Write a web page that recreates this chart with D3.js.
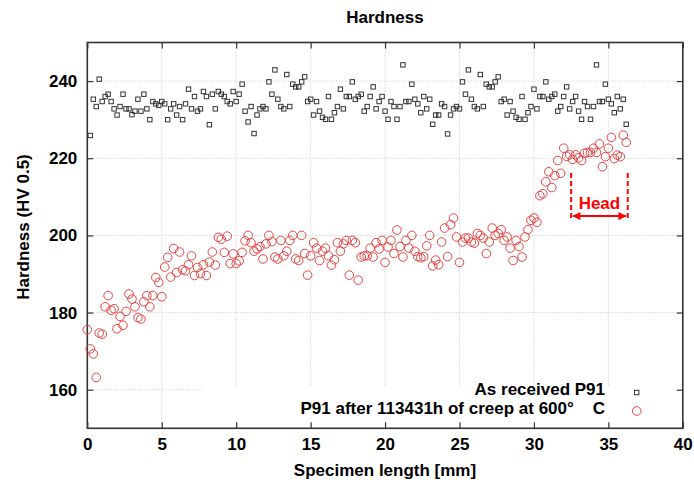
<!DOCTYPE html>
<html><head><meta charset="utf-8">
<script src="https://cdn.jsdelivr.net/npm/d3@7"></script>
<style>
body{margin:0;background:#fff}
svg{display:block}
text{font-family:"Liberation Sans",Arial,Helvetica,sans-serif;font-weight:bold;fill:#000}
</style>
</head><body>
<svg id="chart" width="694" height="484"></svg>
<script>
const title = "Hardness";
const xLabel = "Specimen length [mm]";
const yLabel = "Hardness (HV 0.5)";
const seriesNames = ["As received P91", "P91 after 113431h of creep at 600°    C"];
const xTicks = [0, 5, 10, 15, 20, 25, 30, 35, 40];
const yTicks = [160, 180, 200, 220, 240];

// measurement positions along the specimen [mm]
const positions = [
  0.0, 0.2, 0.4, 0.6, 0.8, 1.0, 1.2, 1.4, 1.6, 1.8,
  2.0, 2.2, 2.4, 2.6, 2.8, 3.0, 3.2, 3.4, 3.6, 3.8,
  4.0, 4.2, 4.4, 4.6, 4.8, 5.0, 5.2, 5.4, 5.6, 5.8,
  6.0, 6.2, 6.4, 6.6, 6.8, 7.0, 7.2, 7.4, 7.6, 7.8,
  8.0, 8.2, 8.4, 8.6, 8.8, 9.0, 9.2, 9.4, 9.6, 9.8,
  10.0, 10.2, 10.4, 10.6, 10.8, 11.0, 11.2, 11.4, 11.6, 11.8,
  12.0, 12.2, 12.4, 12.6, 12.8, 13.0, 13.2, 13.4, 13.6, 13.8,
  14.0, 14.2, 14.4, 14.6, 14.8, 15.0, 15.2, 15.4, 15.6, 15.8,
  16.0, 16.2, 16.4, 16.6, 16.8, 17.0, 17.2, 17.4, 17.6, 17.8,
  18.0, 18.2, 18.4, 18.6, 18.8, 19.0, 19.2, 19.4, 19.6, 19.8,
  20.0, 20.2, 20.4, 20.6, 20.8, 21.0, 21.2, 21.4, 21.6, 21.8,
  22.0, 22.2, 22.4, 22.6, 22.8, 23.0, 23.2, 23.4, 23.6, 23.8,
  24.0, 24.2, 24.4, 24.6, 24.8, 25.0, 25.2, 25.4, 25.6, 25.8,
  26.0, 26.2, 26.4, 26.6, 26.8, 27.0, 27.2, 27.4, 27.6, 27.8,
  28.0, 28.2, 28.4, 28.6, 28.8, 29.0, 29.2, 29.4, 29.6, 29.8,
  30.0, 30.2, 30.4, 30.6, 30.8, 31.0, 31.2, 31.4, 31.6, 31.8,
  32.0, 32.2, 32.4, 32.6, 32.8, 33.0, 33.2, 33.4, 33.6, 33.8,
  34.0, 34.2, 34.4, 34.6, 34.8, 35.0, 35.2, 35.4, 35.6, 35.8,
  36.0, 36.2
];

// As received P91 (starts at 0.2 mm)
const asReceivedX = positions.slice(1);
const asReceived = [
  225.9, 235.3, 233.4, 240.5, 234.7, 236.0, 236.6, 234.7, 232.8, 231.2,
  233.4, 236.6, 232.8, 232.8, 231.3, 232.2, 235.3, 232.2, 236.6, 232.8,
  230.0, 234.7, 234.1, 233.7, 234.7, 234.1, 230.0, 232.8, 234.1, 231.2,
  233.4, 230.0, 234.1, 237.9, 232.8, 236.0, 232.2, 232.8, 237.3, 236.0,
  228.7, 236.6, 232.8, 237.3, 236.6, 236.0, 234.7, 234.1, 237.3, 234.7,
  236.6, 239.2, 232.2, 229.4, 233.4, 226.4, 231.2, 232.8, 233.4, 232.8,
  239.8, 236.6, 242.9, 235.3, 233.4, 232.8, 241.7, 233.4, 239.2, 238.5,
  238.5, 239.8, 241.1, 234.7, 235.3, 231.2, 234.7, 232.2, 230.6, 230.1,
  236.0, 230.1, 231.8, 233.4, 237.9, 232.8, 236.0, 236.0, 239.8, 235.3,
  236.0, 236.6, 232.2, 233.4, 236.0, 238.5, 232.8, 234.7, 236.0, 232.2,
  230.1, 234.7, 233.4, 230.1, 233.4, 244.2, 234.7, 234.7, 239.2, 235.3,
  234.1, 231.8, 236.0, 232.8, 235.3, 228.8, 231.2, 231.2, 234.1, 233.4,
  226.3, 231.2, 232.8, 233.4, 232.8, 239.8, 236.6, 242.9, 235.3, 233.4,
  232.8, 241.7, 233.4, 239.2, 238.5, 238.5, 239.8, 241.1, 234.7, 235.3,
  231.2, 234.7, 232.2, 230.6, 230.1, 236.0, 230.1, 231.8, 233.4, 237.9,
  232.8, 236.0, 236.0, 239.8, 235.3, 236.0, 236.6, 232.2, 233.4, 236.0,
  238.5, 232.8, 234.7, 236.0, 232.2, 230.1, 234.7, 233.4, 230.1, 233.4,
  244.2, 234.7, 234.7, 239.2, 235.3, 234.1, 231.8, 236.0, 232.8, 235.3,
  228.8
];

// P91 after 113431 h of creep at 600 °C (starts at 0.0 mm)
const creptX = positions;
const crept = [
  175.6, 170.6, 169.3, 163.2, 174.7, 174.4, 181.5, 184.4, 180.6, 181.0,
  175.8, 179.0, 176.7, 180.3, 184.8, 183.5, 181.5, 178.7, 178.3, 182.8,
  184.4, 181.5, 184.4, 189.1, 187.8, 184.1, 191.8, 194.3, 189.2, 196.6,
  190.4, 195.7, 191.1, 190.8, 192.4, 194.7, 189.6, 191.7, 190.1, 192.4,
  189.6, 193.1, 195.7, 192.3, 199.5, 199.0, 195.6, 199.8, 192.7, 195.2,
  192.7, 193.4, 195.6, 198.6, 200.0, 198.1, 195.9, 196.5, 197.1, 193.9,
  197.8, 200.0, 198.4, 194.4, 193.9, 198.7, 194.7, 195.9, 198.7, 200.0,
  193.9, 193.5, 200.0, 195.3, 189.7, 194.7, 198.1, 196.7, 193.5, 195.9,
  196.7, 194.7, 192.3, 193.7, 198.1, 195.9, 197.8, 198.7, 189.7, 198.7,
  198.1, 188.4, 194.4, 194.7, 194.7, 196.7, 194.4, 198.1, 196.5, 198.7,
  193.0, 197.0, 198.7, 195.3, 201.4, 197.1, 194.4, 198.7, 196.7, 200.0,
  195.9, 194.5, 194.2, 194.5, 197.3, 200.0, 192.1, 193.6, 192.4, 198.3,
  201.9, 194.5, 202.8, 204.5, 199.6, 193.0, 198.3, 199.3, 199.3, 198.3,
  198.0, 200.5, 200.0, 199.3, 195.3, 198.3, 201.9, 200.0, 200.5, 201.5,
  198.7, 199.6, 196.7, 193.5, 198.7, 197.1, 194.4, 199.6, 201.5, 203.9,
  204.5, 203.4, 210.3, 210.8, 213.9, 216.5, 212.4, 215.5, 219.4, 216.1,
  222.6, 220.5, 220.9, 219.7, 220.9, 220.1, 219.4, 221.3, 221.5, 221.5,
  222.6, 221.5, 223.7, 217.8, 220.4, 222.6, 225.4, 219.9, 220.8, 220.4,
  226.0, 224.1
];

// "Head" annotation (data units)
const headLabel = "Head";
const headX = [32.5, 36.3];
const headY = [204.5, 216.4];
const headArrowY = 205.0;

const svg = d3.select("#chart");
const x = d3.scaleLinear().domain([0, 40]).range([87.3, 682.8]);
const y = d3.scaleLinear().domain([150, 250]).range([428.3, 42.5]);
const red = "#e84444";

// grid
const grid = svg.append("g").attr("stroke", "#c4c4c4").attr("stroke-width", 1).attr("stroke-dasharray", "1,2");
grid.selectAll("line.v").data(xTicks.slice(1, -1)).join("line")
  .attr("x1", d => x(d)).attr("x2", d => x(d)).attr("y1", y.range()[1]).attr("y2", y.range()[0]);
grid.selectAll("line.h").data(yTicks).join("line")
  .attr("x1", x.range()[0]).attr("x2", x.range()[1]).attr("y1", d => y(d)).attr("y2", d => y(d));

// opaque key box
svg.append("rect").attr("x", 203).attr("y", 386).attr("width", x.range()[1] - 203).attr("height", y.range()[0] - 386).attr("fill", "#fff");

// axes
function styleAxis(g) {
  g.select(".domain").remove();
  g.selectAll(".tick line").attr("stroke", "#333").attr("stroke-width", 1.2);
  g.selectAll(".tick text").style("font-size", "17px").attr("fill", "#000");
}
svg.append("g").attr("transform", `translate(0,${y.range()[0]})`)
  .call(d3.axisBottom(x).tickValues(xTicks).tickSize(-6).tickPadding(10).tickFormat(d3.format("d")))
  .call(styleAxis);
svg.append("g").attr("transform", `translate(0,${y.range()[1]})`)
  .call(d3.axisTop(x).tickValues(xTicks).tickSize(-6).tickFormat(""))
  .call(styleAxis);
svg.append("g").attr("transform", `translate(${x.range()[0]},0)`)
  .call(d3.axisLeft(y).tickValues(yTicks).tickSize(-6).tickPadding(10).tickFormat(d3.format("d")))
  .call(styleAxis);
svg.append("g").attr("transform", `translate(${x.range()[1]},0)`)
  .call(d3.axisRight(y).tickValues(yTicks).tickSize(-6).tickFormat(""))
  .call(styleAxis);

// frame
svg.append("rect").attr("x", x.range()[0]).attr("y", y.range()[1])
  .attr("width", x.range()[1] - x.range()[0]).attr("height", y.range()[0] - y.range()[1])
  .attr("fill", "none").attr("stroke", "#333").attr("stroke-width", 1.6);

// series: as received (squares)
const sq = 4.4;
svg.append("g").selectAll("rect").data(asReceived).join("rect")
  .attr("x", (d, i) => x(asReceivedX[i]) - sq / 2).attr("y", d => y(d) - sq / 2)
  .attr("width", sq).attr("height", sq)
  .attr("fill", "none").attr("stroke", "#333").attr("stroke-width", 1);

// series: crept (circles)
svg.append("g").selectAll("circle").data(crept).join("circle")
  .attr("cx", (d, i) => x(creptX[i])).attr("cy", d => y(d)).attr("r", 4.3)
  .attr("fill", "none").attr("stroke", red).attr("stroke-width", 1);

// Head annotation
const ann = svg.append("g");
const defs = svg.append("defs");
defs.append("marker").attr("id", "ah").attr("viewBox", "0 0 10 10").attr("refX", 9).attr("refY", 5)
  .attr("markerWidth", 5).attr("markerHeight", 4).attr("orient", "auto-start-reverse")
  .attr("markerUnits", "strokeWidth")
  .append("path").attr("d", "M0,0L10,5L0,10z").attr("fill", "#f00");
headX.forEach(hx => {
  ann.append("line").attr("x1", x(hx)).attr("x2", x(hx)).attr("y1", y(headY[0])).attr("y2", y(headY[1]))
    .attr("stroke", "#f00").attr("stroke-width", 2).attr("stroke-dasharray", "5,3");
});
ann.append("line").attr("x1", x(headX[0]) + 2).attr("x2", x(headX[1]) - 2)
  .attr("y1", y(headArrowY)).attr("y2", y(headArrowY))
  .attr("stroke", "#f00").attr("stroke-width", 2)
  .attr("marker-start", "url(#ah)").attr("marker-end", "url(#ah)");
ann.append("text").attr("x", (x(headX[0]) + x(headX[1])) / 2).attr("y", y(headArrowY) - 7)
  .attr("text-anchor", "middle").style("font-size", "17px").style("fill", "#f00").text(headLabel);

// legend
const lg = svg.append("g");
lg.append("text").attr("x", 605).attr("y", 395).attr("text-anchor", "end").style("font-size", "17px")
  .style("white-space", "pre").text(seriesNames[0]);
lg.append("text").attr("x", 605).attr("y", 413.5).attr("text-anchor", "end").style("font-size", "17px")
  .style("white-space", "pre").text(seriesNames[1]);
lg.append("rect").attr("x", 636.7 - 2.2).attr("y", 392.5 - 2.2).attr("width", 4.4).attr("height", 4.4)
  .attr("fill", "none").attr("stroke", "#333").attr("stroke-width", 1);
lg.append("circle").attr("cx", 636.7).attr("cy", 411).attr("r", 4.3)
  .attr("fill", "none").attr("stroke", red).attr("stroke-width", 1);

// titles
svg.append("text").attr("x", 385).attr("y", 23).attr("text-anchor", "middle").style("font-size", "17px").text(title);
svg.append("text").attr("x", 385).attr("y", 476).attr("text-anchor", "middle").style("font-size", "17px").text(xLabel);
svg.append("text").attr("transform", "translate(29,227) rotate(-90)").attr("text-anchor", "middle")
  .style("font-size", "17px").text(yLabel);
</script>
</body></html>
